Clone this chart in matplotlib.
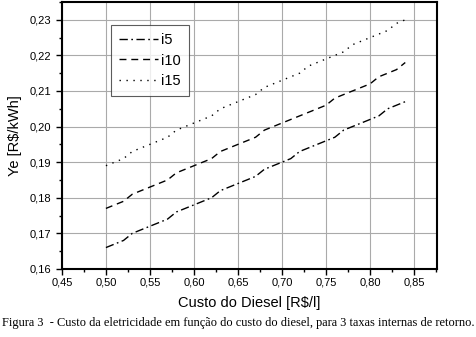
import matplotlib
matplotlib.use("Agg")
import matplotlib.pyplot as plt
from matplotlib.ticker import MultipleLocator, FuncFormatter

x = [0.50, 0.51, 0.52, 0.53, 0.54, 0.55, 0.56, 0.57, 0.58, 0.59, 0.60, 0.61,
     0.62, 0.63, 0.64, 0.65, 0.66, 0.67, 0.68, 0.69, 0.70, 0.71, 0.72, 0.73,
     0.74, 0.75, 0.76, 0.77, 0.78, 0.79, 0.80, 0.81, 0.82, 0.83, 0.84]
i5 = [0.166, 0.167, 0.168, 0.170, 0.171, 0.172, 0.173, 0.174, 0.176, 0.177,
      0.178, 0.179, 0.180, 0.182, 0.183, 0.184, 0.185, 0.186, 0.188, 0.189,
      0.190, 0.191, 0.193, 0.194, 0.195, 0.196, 0.197, 0.199, 0.200, 0.201,
      0.202, 0.203, 0.205, 0.206, 0.207]
i10 = [0.177, 0.178, 0.179, 0.181, 0.182, 0.183, 0.184, 0.185, 0.187, 0.188,
       0.189, 0.190, 0.191, 0.193, 0.194, 0.195, 0.196, 0.197, 0.199, 0.200,
       0.201, 0.202, 0.203, 0.204, 0.205, 0.206, 0.208, 0.209, 0.210, 0.211,
       0.212, 0.214, 0.215, 0.216, 0.218]
i15 = [0.189, 0.190, 0.191, 0.193, 0.194, 0.195, 0.196, 0.197, 0.199, 0.200,
       0.201, 0.202, 0.203, 0.205, 0.206, 0.207, 0.208, 0.209, 0.211, 0.212,
       0.213, 0.214, 0.215, 0.217, 0.218, 0.219, 0.220, 0.221, 0.223, 0.224,
       0.225, 0.226, 0.227, 0.229, 0.230]
labels = ["i5", "i10", "i15"]

plt.rcParams['font.family'] = ['Liberation Sans', 'DejaVu Sans']

fig = plt.figure(figsize=(4.76, 3.37), dpi=100)
ax = fig.add_axes([0.130, 0.202, 0.788, 0.792])

ax.plot(x, i5, color='black', lw=1.0, dashes=(6, 2.5, 1.2, 2.5), label=labels[0])
ax.plot(x, i10, color='black', lw=1.0, dashes=(5, 3.5), label=labels[1])
ax.plot(x, i15, color='black', lw=1.0, dashes=(1, 4), label=labels[2])

ax.set_xlim(0.45, 0.876)
ax.set_ylim(0.16, 0.235)
ax.xaxis.set_major_locator(MultipleLocator(0.05))
ax.xaxis.set_minor_locator(MultipleLocator(0.025))
ax.yaxis.set_major_locator(MultipleLocator(0.01))
ax.yaxis.set_minor_locator(MultipleLocator(0.005))
ax.xaxis.set_major_formatter(FuncFormatter(lambda v, p: f"{v:.2f}".replace('.', ',')))
ax.yaxis.set_major_formatter(FuncFormatter(lambda v, p: f"{v:.2f}".replace('.', ',')))
ax.tick_params(which='major', direction='out', length=4, width=1, labelsize=8, colors='black')
ax.tick_params(which='minor', direction='out', length=2.5, width=1)
ax.tick_params(axis='x', pad=2)
ax.grid(True, which='major', color='#aaaaaa', lw=0.8)
ax.set_axisbelow(True)
for s in ax.spines.values():
    s.set_linewidth(1.5)

ax.set_xlabel("Custo do Diesel [R$/l]", fontsize=10.5, labelpad=6)
ax.set_ylabel("Ye [R$/kWh]", fontsize=10.5, labelpad=6)

leg = ax.legend(loc='upper left', bbox_to_anchor=(0.131, 0.914), fontsize=10.5,
                frameon=True, fancybox=False, edgecolor='#333333',
                handlelength=2.7, handletextpad=0.2, borderpad=0.55,
                labelspacing=0.45, borderaxespad=0)
leg.get_frame().set_linewidth(0.8)

fig.text(0.5, 0.025, "Figura 3  - Custo da eletricidade em função do custo do diesel, para 3 taxas internas de retorno.",
         ha='center', va='bottom', fontsize=8.9, family=['Liberation Serif', 'DejaVu Serif'])

fig.savefig("out.png", dpi=100)
